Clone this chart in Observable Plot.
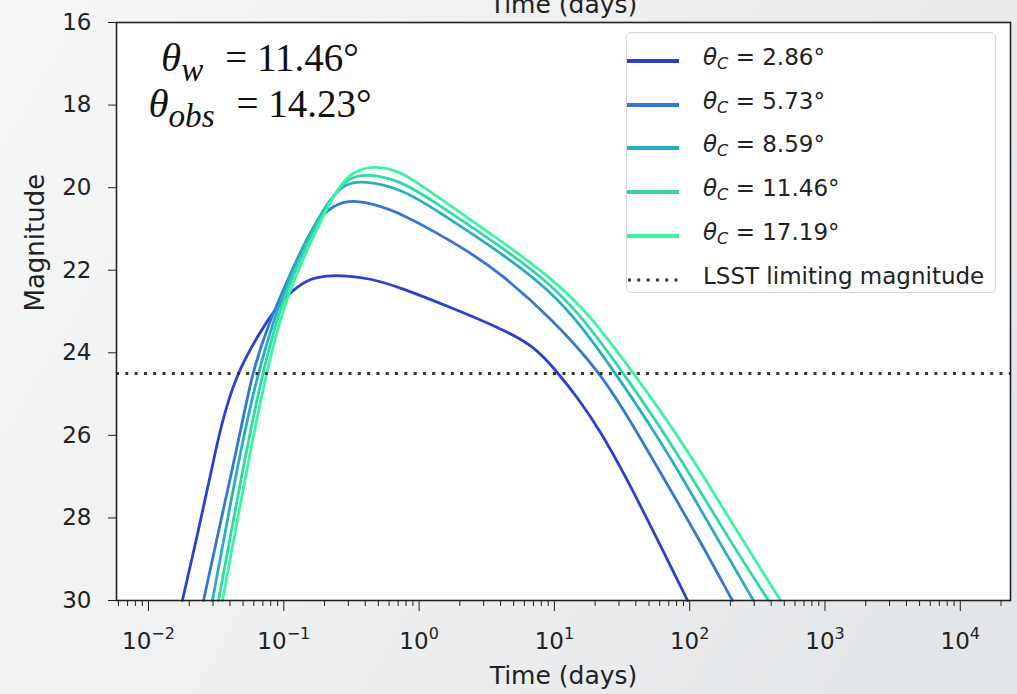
<!DOCTYPE html>
<html>
<head>
<meta charset="utf-8">
<script src="https://cdn.jsdelivr.net/npm/d3@7"></script>
<script src="https://cdn.jsdelivr.net/npm/@observablehq/plot@0.6"></script>
<style>
  html, body { margin: 0; padding: 0; }
  #fig {
    position: relative; width: 1017px; height: 694px; overflow: hidden;
    background: linear-gradient(120deg, #f6f7f7 0%, #eeeff0 45%, #e2e5e8 100%);
    font-family: "DejaVu Sans", sans-serif;
  }
  #fig svg { position: absolute; left: 0; top: 0; }
  .note {
    position: absolute; left: 135px; top: 35px; width: 250px; text-align: center;
    font-family: "Liberation Serif", "DejaVu Serif", serif; font-size: 39px; line-height: 46px; color: #111;
  }
  .note i.th { font-size: 1.05em; }
  .note sub { font-size: 0.85em; vertical-align: -0.3em; line-height: 0; }
  .note .gap { display: inline-block; width: 22px; }
  .legend {
    position: absolute; left: 626px; top: 32px; width: 370px; height: 261px; box-sizing: border-box;
    border: 1.3px solid #d6d6d6; border-radius: 5px; background: rgba(255,255,255,0.85);
  }
  .row { position: absolute; left: 0; height: 0; }
  .row svg { position: absolute; left: 6px; top: -4px; }
  .row span {
    position: absolute; left: 76px; top: -15px; white-space: nowrap;
    font-size: 23px; line-height: 30px; color: #222;
  }
  .row sub { font-size: 0.7em; vertical-align: -0.25em; line-height: 0; font-style: italic; }
</style>
</head>
<body>
<div id="fig"></div>
<script>
// Half-opening angles of the jet cores and their light curves (time in days, apparent magnitude)
const coreAngles = ["2.86", "5.73", "8.59", "11.46", "17.19"];

const time1 = [0.0178, 0.0234, 0.0292, 0.0340, 0.0440, 0.0673, 0.0995, 0.150, 0.210, 0.286, 0.437, 0.730, 1.71, 4.0, 7.02, 10.7, 14.8, 21.9, 32.4, 51.3, 96.4];
const mag1  = [30.0, 28.30, 26.85, 25.81, 24.55, 23.46, 22.66, 22.20, 22.13, 22.13, 22.20, 22.42, 22.90, 23.41, 23.82, 24.50, 25.08, 25.90, 26.90, 28.18, 30.0];

const time2 = [0.0255, 0.0352, 0.0425, 0.0504, 0.0588, 0.0759, 0.112, 0.157, 0.210, 0.301, 0.437, 0.730, 2.28, 4.0, 9.35, 21.9, 38.5, 66.2, 116, 207];
const mag2  = [30.0, 27.89, 26.68, 25.54, 24.47, 23.34, 22.08, 21.04, 20.50, 20.29, 20.38, 20.60, 21.52, 22.08, 23.14, 24.47, 25.78, 27.11, 28.49, 30.0];

const time3 = [0.0297, 0.0447, 0.0618, 0.0929, 0.1445, 0.221, 0.286, 0.388, 0.730, 1.28, 4.0, 9.35, 16.4, 28.3, 51.3, 91.6, 163, 296];
const mag3  = [30.0, 26.85, 24.67, 22.73, 21.28, 20.24, 19.90, 19.83, 20.02, 20.50, 21.57, 22.49, 23.41, 24.50, 25.76, 27.11, 28.54, 30.0];

const time4 = [0.0329, 0.0495, 0.0673, 0.0962, 0.152, 0.229, 0.301, 0.416, 0.730, 1.28, 4.0, 9.35, 17.3, 32.4, 58.7, 107, 200, 382];
const mag4  = [30.0, 26.85, 24.67, 22.73, 21.28, 20.19, 19.75, 19.66, 19.83, 20.33, 21.42, 22.32, 23.26, 24.50, 25.73, 27.09, 28.57, 30.0];

const time5 = [0.0352, 0.0530, 0.0719, 0.101, 0.160, 0.237, 0.311, 0.453, 0.730, 1.28, 4.0, 9.35, 18.5, 38.5, 68.5, 124, 237, 469];
const mag5  = [30.0, 26.85, 24.67, 22.73, 21.28, 20.12, 19.63, 19.46, 19.58, 20.16, 21.28, 22.17, 23.09, 24.50, 25.64, 26.94, 28.45, 30.0];

const lsstLimit = 24.5;

const xDomain = [0.0058, 23500];
const yTicks = [16, 18, 20, 22, 24, 26, 28, 30];
const xMajor = [1e-2, 1e-1, 1e0, 1e1, 1e2, 1e3, 1e4];
const xMinor = [];
for (let e = -3; e <= 4; e++) for (let k = 2; k <= 9; k++) {
  const v = k * Math.pow(10, e);
  if (v >= xDomain[0] && v <= xDomain[1]) xMinor.push(v);
}

const palette = ["#2b3fd0", "#3478cf", "#2aacc2", "#2ed8a8", "#3cf4a0"];

const series = [[time1, mag1], [time2, mag2], [time3, mag3], [time4, mag4], [time5, mag5]];
const rows = series.flatMap(([ts, ms], i) => ts.map((t, j) => ({t, m: ms[j], k: coreAngles[i]})));

const chart = Plot.plot({
  width: 1017,
  height: 694,
  marginLeft: 116,
  marginRight: 7,
  marginTop: 22,
  marginBottom: 94,
  x: {type: "log", domain: xDomain},
  y: {domain: [16, 30], reverse: true},
  color: {domain: coreAngles, range: palette},
  style: {background: "transparent", fontFamily: "DejaVu Sans", color: "#222", overflow: "visible"},
  marks: [
    Plot.frame({fill: "white", stroke: null}),
    Plot.line(rows, {x: "t", y: "m", z: "k", stroke: "k", strokeWidth: 2.8, curve: "basis"}),
    Plot.ruleY([lsstLimit], {stroke: "#333", strokeWidth: 3, strokeDasharray: "3,6.3"}),
    Plot.frame({stroke: "#222", strokeWidth: 1.6}),
    Plot.axisY({ticks: yTicks, tickSize: 8, tickPadding: 17, fontSize: 23, label: null, tickFormat: d => String(d)}),
    Plot.axisX({ticks: xMajor, tickSize: 11, tickPadding: 21, fontSize: 23, label: null,
                tickFormat: v => "10^" + Math.round(Math.log10(v))}),
    Plot.axisX({ticks: xMinor, tickSize: 6, label: null, tickFormat: () => ""}),
    Plot.text(["Magnitude"], {frameAnchor: "left", dx: -81, rotate: -90, fontSize: 26, lineAnchor: "middle"}),
    Plot.text(["Time (days)"], {frameAnchor: "bottom", dy: 75, fontSize: 25, lineAnchor: "middle"}),
    Plot.text(["Time (days)"], {frameAnchor: "top", dy: -18, fontSize: 25, lineAnchor: "middle"})
  ]
});

// Typeset the decade labels as 10 with a raised exponent
chart.querySelectorAll('g[aria-label="x-axis tick label"] text').forEach(t => {
  const m = /^10\^(-?\d+)$/.exec(t.textContent);
  if (!m) return;
  t.textContent = "10";
  const sup = document.createElementNS("http://www.w3.org/2000/svg", "tspan");
  sup.setAttribute("dy", "-10");
  sup.setAttribute("font-size", "16");
  sup.textContent = m[1].replace("-", "\u2212");
  t.appendChild(sup);
});

const fig = document.getElementById("fig");
fig.appendChild(chart);

// Jet geometry annotation
const note = document.createElement("div");
note.className = "note";
note.innerHTML = "<i class='th'>θ</i><sub><i>w</i></sub><span class='gap'></span>= 11.46°<br>" +
                 "<i class='th'>θ</i><sub><i>obs</i></sub><span class='gap'></span>= 14.23°";
fig.appendChild(note);

// Legend box
const legend = document.createElement("div");
legend.className = "legend";
const entries = coreAngles.map((a, i) => ({
  swatch: `<svg width="52" height="8"><line x1="0" x2="52" y1="4" y2="4" stroke="${palette[i]}" stroke-width="4"/></svg>`,
  label: `<i>θ</i><sub>C</sub> = ${a}°`
}));
entries.push({
  swatch: `<svg width="52" height="8"><line x1="1" x2="52" y1="4" y2="4" stroke="#333" stroke-width="3" stroke-dasharray="3,6.3"/></svg>`,
  label: "LSST limiting magnitude"
});
entries.forEach((e, i) => {
  const row = document.createElement("div");
  row.className = "row";
  row.style.top = (24 + i * 43.7) + "px";
  row.innerHTML = e.swatch + `<span>${e.label}</span>`;
  legend.appendChild(row);
});
fig.appendChild(legend);
</script>
</body>
</html>
